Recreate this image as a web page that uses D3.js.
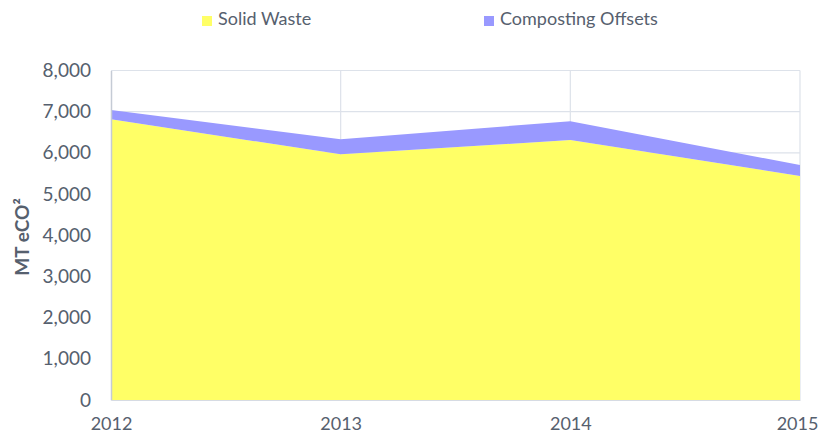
<!DOCTYPE html>
<html>
<head>
<meta charset="utf-8">
<script src="https://cdn.jsdelivr.net/npm/d3@7"></script>
<style>
  body { margin: 0; background: #fff; }
  #chart text { font-family: Lato, "Open Sans", sans-serif; fill: #56606e; }
</style>
</head>
<body>
<div id="chart"></div>
<script>
const years = [2012, 2013, 2014, 2015];
const solidWaste = [6815, 5965, 6310, 5440];
const compostingOffsets = [225, 365, 460, 265];
const yTicks = [0, 1000, 2000, 3000, 4000, 5000, 6000, 7000, 8000];
const seriesNames = ['Solid Waste', 'Composting Offsets'];
const seriesColors = ['#ffff66', '#9999ff'];

const W = 821, H = 437,
      margin = {top: 70.5, left: 111, right: 21, bottom: 37},
      width = W - margin.left - margin.right,
      height = H - margin.top - margin.bottom;

const svg = d3.select('#chart').append('svg')
  .attr('width', W)
  .attr('height', H);

const g = svg.append('g')
  .attr('transform', 'translate(' + margin.left + ',' + margin.top + ')');

const x = d3.scaleLinear().domain([2012, 2015]).range([0, width]);
const y = d3.scaleLinear().domain([0, 8000]).range([height, 0]);

// gridlines
g.selectAll('.hgrid')
  .data(yTicks.slice(1))
  .enter().append('line')
    .attr('x1', 0).attr('x2', width)
    .attr('y1', d => y(d)).attr('y2', d => y(d))
    .attr('stroke', '#dde2ea').attr('stroke-width', 1.2);

g.selectAll('.vgrid')
  .data(years.slice(1))
  .enter().append('line')
    .attr('x1', d => x(d)).attr('x2', d => x(d))
    .attr('y1', 0).attr('y2', height)
    .attr('stroke', '#dde2ea').attr('stroke-width', 1.2);

// stacked areas
const table = years.map((yr, i) => ({year: yr, 'Solid Waste': solidWaste[i], 'Composting Offsets': compostingOffsets[i]}));
const stacked = d3.stack().keys(seriesNames)(table);

const area = d3.area()
  .x(d => x(d.data.year))
  .y0(d => y(d[0]))
  .y1(d => y(d[1]));

g.selectAll('.layer')
  .data(stacked)
  .enter().append('path')
    .attr('d', area)
    .attr('fill', (d, i) => seriesColors[i]);

// axes
const yAxis = d3.axisLeft(y).tickValues(yTicks).tickSize(0).tickPadding(20).tickFormat(d3.format(','));
const xAxis = d3.axisBottom(x).tickValues(years).tickSize(0).tickPadding(17).tickFormat(d3.format('d'));

const ya = g.append('g').call(yAxis);
ya.select('.domain').attr('stroke', '#c5cbd5').attr('stroke-width', 1.5);
ya.selectAll('text').style('font-size', '19px');

const xa = g.append('g').attr('transform', 'translate(0,' + height + ')').call(xAxis);
xa.select('.domain').attr('stroke', '#d6dbe3').attr('stroke-width', 1.2);
xa.selectAll('text').style('font-size', '18px');
// keep the last year label inside the frame
xa.selectAll('text').filter(d => d === 2015).attr('dx', -3);

// y axis title
svg.append('text')
  .attr('transform', 'translate(29,237) rotate(-90)')
  .style('text-anchor', 'middle')
  .style('font-size', '19px')
  .style('font-weight', 'bold')
  .text('MT eCO²');

// legend
const legendX = [202, 484];
const legend = svg.selectAll('.legend')
  .data(seriesNames)
  .enter().append('g')
    .attr('transform', (d, i) => 'translate(' + legendX[i] + ',0)');

legend.append('rect')
  .attr('x', 0).attr('y', 16)
  .attr('width', 10).attr('height', 10)
  .attr('fill', (d, i) => seriesColors[i]);

legend.append('text')
  .attr('x', 16).attr('y', 25)
  .style('font-size', '18px')
  .text(d => d);
</script>
</body>
</html>
